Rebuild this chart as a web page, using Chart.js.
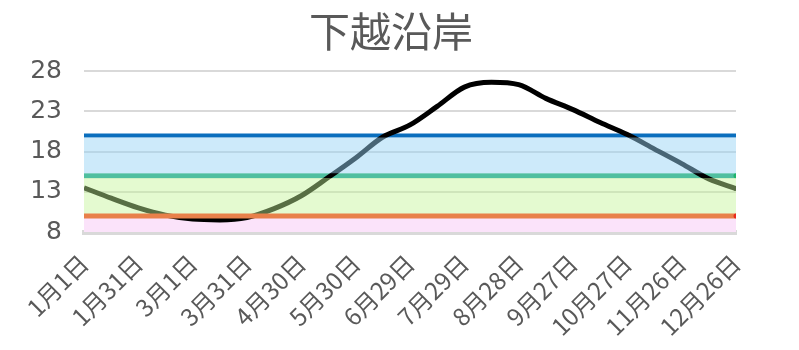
<!DOCTYPE html>
<html>
<head>
<meta charset="utf-8">
<script src="https://cdn.jsdelivr.net/npm/chart.js@4"></script>
<style>
  html, body { margin: 0; padding: 0; background: #fff; }
  #wrap { width: 799px; height: 350px; overflow: hidden; }
</style>
</head>
<body>
<div id="wrap"><canvas id="seaChart"></canvas></div>
<script>
// day of year (1月1日 = 0) and sea temperature
const days = [0, 15, 30, 45, 60, 75, 90, 105, 120, 135, 150, 165, 180,
              195, 210, 225, 240, 255, 270, 285, 300, 315, 330, 345, 360];
const temps = [13.5, 12.2, 11.0, 10.1, 9.6, 9.5, 9.8, 10.9, 12.5, 14.8, 17.2, 19.8, 21.3,
               23.6, 26.0, 26.6, 26.3, 24.6, 23.2, 21.6, 20.1, 18.3, 16.5, 14.6, 13.4];

// x tick labels, one every 30 days
const tickLabels = ['1月1日', '1月31日', '3月1日', '3月31日', '4月30日', '5月30日', '6月29日',
                    '7月29日', '8月28日', '9月27日', '10月27日', '11月26日', '12月26日'];

// horizontal reference levels
const yTicks = [8, 13, 18, 23, 28];
const levelLow = 10;
const levelMid = 15;
const levelHigh = 20;

const FONT = "'Noto Sans CJK JP', 'Noto Sans', sans-serif";
const GREY = '#595959';

function flat(y) {
    return [{ x: days[0], y: y }, { x: days[days.length - 1], y: y }];
}
function lastDot(ctx) {
    return ctx.dataIndex === ctx.dataset.data.length - 1 ? 2.5 : 0;
}

// title drawn by hand so it can sit a bit right of the default centre
const titlePlugin = {
    id: 'chartTitle',
    afterDraw(chart) {
        const c = chart.ctx;
        c.save();
        c.fillStyle = GREY;
        c.font = '41px ' + FONT;
        c.textAlign = 'center';
        c.textBaseline = 'middle';
        c.fillText('下越沿岸', 391, 31);
        c.restore();
    }
};

document.addEventListener('DOMContentLoaded', function() {
    const ctx = document.getElementById('seaChart');

    new Chart(ctx, {
        type: 'line',
        data: {
            datasets: [
                {   // pink band under the line
                    data: flat(levelLow), fill: { value: yTicks[0] },
                    backgroundColor: '#fbe3fa', borderWidth: 0, pointRadius: 0, order: 7
                },
                {   // blue level line
                    data: flat(levelHigh), borderColor: '#0a6ebd', borderWidth: 4,
                    borderCapStyle: 'round', pointRadius: 0, fill: false, order: 6
                },
                {   // teal level line
                    data: flat(levelMid), borderColor: '#4fbf9f', borderWidth: 5,
                    pointRadius: lastDot, pointBackgroundColor: '#1fb36b', pointBorderWidth: 0,
                    fill: false, order: 5
                },
                {   // temperature
                    data: days.map((d, i) => ({ x: d, y: temps[i] })),
                    borderColor: '#000', borderWidth: 5, cubicInterpolationMode: 'monotone',
                    pointRadius: lastDot, pointBackgroundColor: '#000', pointBorderWidth: 0,
                    fill: false, order: 4
                },
                {   // green band (drawn over the line)
                    data: flat(levelMid - 0.3), fill: { value: levelLow },
                    backgroundColor: 'rgba(195,245,150,0.45)', borderWidth: 0, pointRadius: 0, order: 3
                },
                {   // blue band (drawn over the line)
                    data: flat(levelHigh - 0.25), fill: { value: levelMid + 0.3 },
                    backgroundColor: 'rgba(151,211,245,0.48)', borderWidth: 0, pointRadius: 0, order: 2
                },
                {   // orange level line
                    data: flat(levelLow), borderColor: '#e8804a', borderWidth: 5,
                    pointRadius: lastDot, pointBackgroundColor: '#e82a1e', pointBorderWidth: 0,
                    fill: false, order: 1
                }
            ]
        },
        plugins: [titlePlugin],
        options: {
            responsive: true,
            maintainAspectRatio: false,
            animation: false,
            layout: { padding: { left: 0, right: 63, top: 71, bottom: 0 } },
            plugins: {
                legend: { display: false },
                tooltip: { enabled: false },
                title: { display: false }
            },
            scales: {
                x: {
                    type: 'linear',
                    min: days[0],
                    max: days[days.length - 1],
                    afterFit: s => { s.height = 118; },
                    grid: { display: false, drawTicks: false },
                    border: { color: '#d9d9d9', width: 5 },
                    afterBuildTicks: s => {
                        s.ticks = tickLabels.map((t, i) => ({ value: i * 30 }));
                    },
                    ticks: {
                        autoSkip: false,
                        minRotation: 45,
                        maxRotation: 45,
                        padding: 17,
                        color: GREY,
                        font: { family: FONT, size: 24 },
                        callback: v => tickLabels[v / 30]
                    }
                },
                y: {
                    min: yTicks[0],
                    max: yTicks[yTicks.length - 1],
                    afterFit: s => { s.width = 84; },
                    afterBuildTicks: s => {
                        s.ticks = yTicks.map(v => ({ value: v }));
                    },
                    grid: { color: '#d9d9d9', lineWidth: 2, drawTicks: false },
                    border: { display: false },
                    ticks: {
                        padding: 22,
                        color: GREY,
                        font: { family: "'DejaVu Sans', sans-serif", size: 25 }
                    }
                }
            }
        }
    });
});
</script>
</body>
</html>
